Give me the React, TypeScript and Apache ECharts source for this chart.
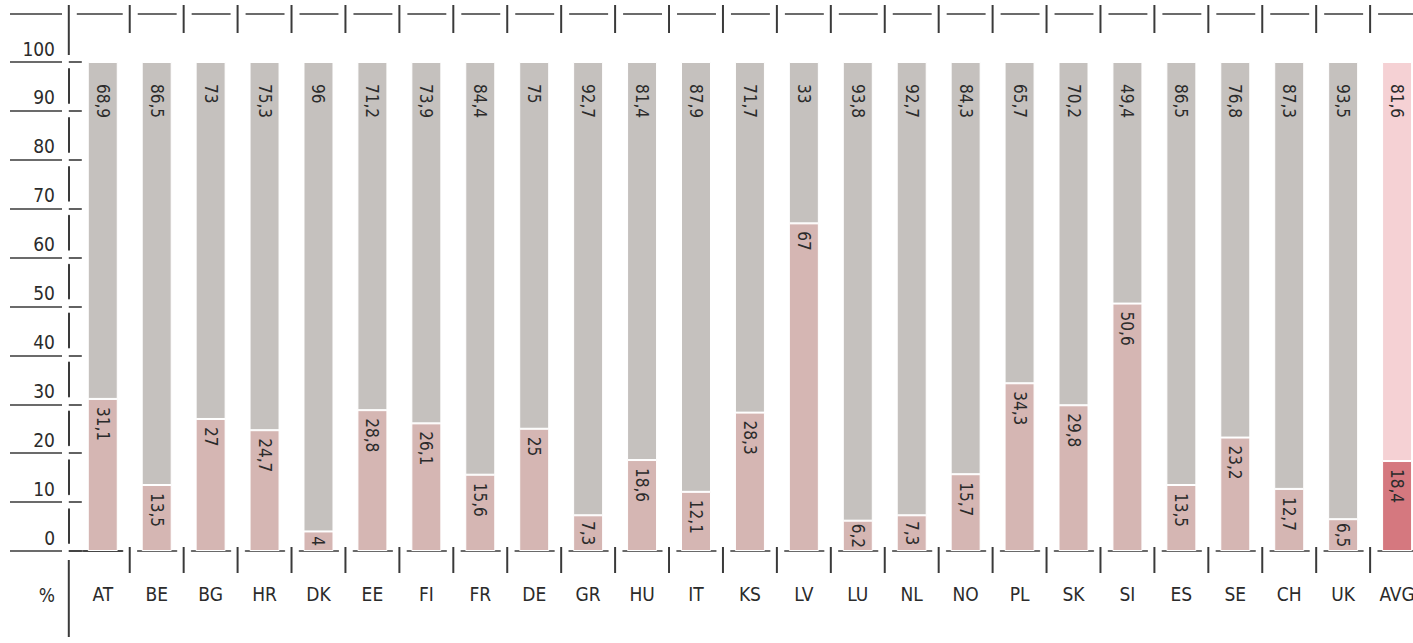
import { useEffect, useRef } from "react";
import * as echarts from "echarts";

const categories = ["AT", "BE", "BG", "HR", "DK", "EE", "FI", "FR", "DE", "GR", "HU", "IT", "KS", "LV", "LU", "NL", "NO", "PL", "SK", "SI", "ES", "SE", "CH", "UK", "AVG"];
const lowerShare = [31.1, 13.5, 27, 24.7, 4, 28.8, 26.1, 15.6, 25, 7.3, 18.6, 12.1, 28.3, 67, 6.2, 7.3, 15.7, 34.3, 29.8, 50.6, 13.5, 23.2, 12.7, 6.5, 18.4];
const upperShare = [68.9, 86.5, 73, 75.3, 96, 71.2, 73.9, 84.4, 75, 92.7, 81.4, 87.9, 71.7, 33, 93.8, 92.7, 84.3, 65.7, 70.2, 49.4, 86.5, 76.8, 87.3, 93.5, 81.6];
const yMin = 0;
const yMax = 100;
const yStep = 10;
const unitLabel = "%";
const avgCategory = "AVG";

const FONT = "'DejaVu Sans Condensed', 'DejaVu Sans', sans-serif";
const LINE = "#3a3a3a";
const TEXT = "#2b2b2b";
const LOW_COLOR = "#d5b6b3";
const HIGH_COLOR = "#c5c1be";
const AVG_LOW = "#d5787f";
const AVG_HIGH = "#f5d1d4";

const W = 1413;
const H = 643;
const GRID_TOP = 62;
const GRID_BOTTOM = 92;
const GRID_LEFT = 75.8;
const CAT_W = 53.93;
const GRID_WIDTH = CAT_W * categories.length;
const PX_PER_STEP = (H - GRID_TOP - GRID_BOTTOM) / ((yMax - yMin) / yStep);

const fmt = (v: number) => String(v).replace(".", ",");

export default function App() {
  const ref = useRef<HTMLDivElement>(null);
  useEffect(() => {
    if (!ref.current) return;
    const chart = echarts.init(ref.current, undefined, { renderer: "svg" });
    const barLabel = {
      show: true,
      rotate: -90,
      align: "left",
      verticalAlign: "middle",
      fontFamily: FONT,
      fontSize: 17,
      color: TEXT,
      formatter: (p: any) => fmt(p.value),
    };
    const option: any = {
      animation: false,
      backgroundColor: "#fff",
      textStyle: { fontFamily: FONT },
      grid: [
        { left: GRID_LEFT, width: GRID_WIDTH, top: GRID_TOP, bottom: GRID_BOTTOM, containLabel: false, outerBoundsMode: "none" },
        { left: 10, width: 52, top: GRID_TOP, bottom: GRID_BOTTOM, containLabel: false, outerBoundsMode: "none" },
      ],
      xAxis: [
        {
          type: "category",
          gridIndex: 0,
          data: categories,
          axisLine: {
            show: true,
            lineStyle: { color: LINE, width: 1.6, type: [CAT_W - 15, 15], dashOffset: CAT_W - 8 },
          },
          axisTick: { show: false },
          axisLabel: { fontSize: 19, color: TEXT, margin: 33, fontFamily: FONT, interval: 0 },
        },
        { type: "category", gridIndex: 1, data: [""], show: false },
      ],
      yAxis: [
        {
          type: "value",
          gridIndex: 0,
          min: yMin,
          max: yMax,
          interval: yStep,
          offset: 7,
          axisLine: {
            show: true,
            lineStyle: { color: LINE, width: 2, type: [PX_PER_STEP - 15, 15], dashOffset: PX_PER_STEP - 7.5 },
          },
          axisTick: { show: true, inside: true, length: 13, lineStyle: { color: LINE, width: 1.6 } },
          axisLabel: { show: false },
          splitLine: { show: false },
        },
        {
          type: "value",
          gridIndex: 1,
          position: "right",
          min: yMin,
          max: yMax,
          interval: yStep,
          axisLine: { show: false },
          axisTick: { show: false },
          axisLabel: {
            inside: true,
            margin: 7,
            verticalAlign: "bottom",
            padding: [0, 0, 4, 0],
            fontSize: 19,
            color: TEXT,
            fontFamily: FONT,
          },
          splitLine: { show: true, lineStyle: { color: LINE, width: 1.6 } },
        },
      ],
      series: [
        {
          type: "bar",
          stack: "share",
          barWidth: 30,
          itemStyle: { color: LOW_COLOR, borderColor: "#fff", borderWidth: 1 },
          label: { ...barLabel, position: "insideTop", distance: 8 },
          data: lowerShare.map((v, i) => ({
            value: v,
            itemStyle: categories[i] === avgCategory ? { color: AVG_LOW } : undefined,
            label: v < 10 ? { position: "inside", align: "center", distance: 0 } : undefined,
          })),
        },
        {
          type: "bar",
          stack: "share",
          barWidth: 30,
          itemStyle: { color: HIGH_COLOR, borderColor: "#fff", borderWidth: 1 },
          label: { ...barLabel, position: "insideTop", distance: 22 },
          data: upperShare.map((v, i) => ({
            value: v,
            itemStyle: categories[i] === avgCategory ? { color: AVG_HIGH } : undefined,
          })),
        },
      ],
    };
    chart.setOption(option);

    const c0 = chart.convertToPixel({ xAxisIndex: 0 }, categories[0]) as number;
    const c1 = chart.convertToPixel({ xAxisIndex: 0 }, categories[1]) as number;
    const bw = c1 - c0;
    const b = (i: number) => c0 - bw / 2 + i * bw;
    const yZero = chart.convertToPixel({ yAxisIndex: 0 }, yMin) as number;
    const yTopv = chart.convertToPixel({ yAxisIndex: 0 }, yMax) as number;
    const axisX = b(0) - 7;
    const rowTop = yTopv - 48;
    const seg = (x1: number, y1: number, x2: number, y2: number, w: number) => ({
      type: "line",
      silent: true,
      shape: { x1, y1, x2, y2 },
      style: { stroke: LINE, lineWidth: w },
    });
    const g: any[] = [];
    g.push(seg(10, rowTop, 62, rowTop, 1.6));
    g.push(seg(axisX, rowTop - 9, axisX, yTopv - 7, 2));
    g.push(seg(axisX, yZero + 9, axisX, yZero + 86, 2));
    g.push(seg(axisX, yZero, b(1) - 7, yZero, 1.6));
    for (let i = 0; i < categories.length; i++) {
      const xs = i === 0 ? axisX + 8 : b(i) + 8;
      g.push(seg(xs, rowTop, b(i + 1) - 7, rowTop, 1.6));
      if (i > 0) {
        g.push(seg(b(i), rowTop - 9, b(i), rowTop + 19, 2));
        g.push(seg(b(i), yZero - 4, b(i), yZero + 22, 2));
      }
    }
    g.push({
      type: "text",
      silent: true,
      x: 55,
      y: yZero + 44,
      style: { text: unitLabel, fill: TEXT, font: `19px ${FONT}`, textAlign: "right", textVerticalAlign: "middle" },
    });
    chart.setOption({ graphic: g });

    return () => chart.dispose();
  }, []);
  return <div ref={ref} style={{ position: "fixed", left: 0, top: 0, width: W, height: H }} />;
}
